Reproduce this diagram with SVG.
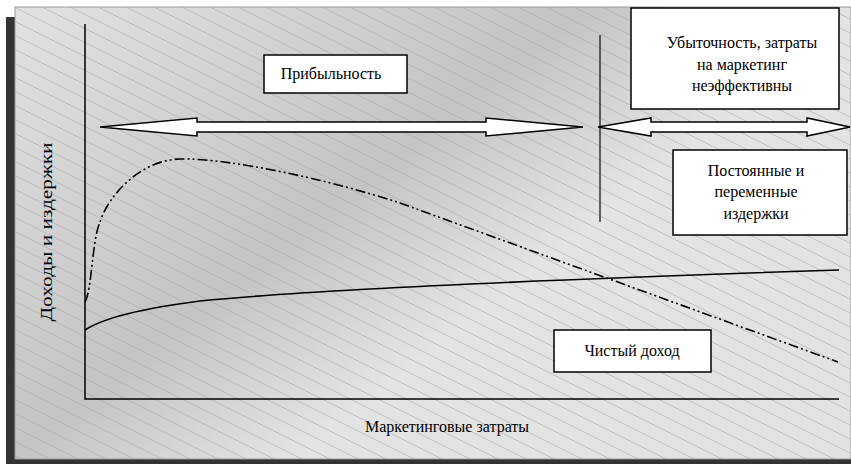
<svg xmlns="http://www.w3.org/2000/svg" width="851" height="464" viewBox="0 0 851 464">
<defs>
<linearGradient id="bg" gradientUnits="userSpaceOnUse" x1="15" y1="7" x2="557" y2="698">
<stop offset="0" stop-color="#e2e2e2"/>
<stop offset="0.4" stop-color="#c4c4c4"/>
<stop offset="0.6" stop-color="#e4e4e4"/>
<stop offset="1" stop-color="#e2e2e2"/>
</linearGradient>
<pattern id="hatch" patternUnits="userSpaceOnUse" width="28" height="14">
<path d="M-2,-1 L30,15 M-2,13 L2,15 M26,-1 L30,1" stroke="#a6a6a6" stroke-width="0.6" fill="none"/>
</pattern>
</defs>
<style>
.box{fill:#fff;stroke:#000;stroke-width:1.5}
.t{font-family:"Liberation Serif","Times New Roman",serif;font-size:16px;fill:#000}
.arrow{fill:#fff;stroke:#000;stroke-width:1.5;stroke-linejoin:miter}
.axis{stroke:#000;stroke-width:1.5;fill:none}
</style>
<g id="background">
<rect x="6" y="17" width="845" height="447" fill="#333"/>
<rect x="15" y="7" width="836" height="452" fill="url(#bg)" stroke="#999" stroke-width="1"/>
<rect x="15" y="7" width="836" height="452" fill="url(#hatch)"/>
</g>
<g id="connectors">
<path class="axis" d="M85,24 V399 H839"/>
<path d="M600,35 V222" stroke="#333" stroke-width="1.5"/>
<polygon class="arrow" points="100,127 197,118 197,122 486,122 486,118 583,127 486,136 486,132 197,132 197,136"/>
<polygon class="arrow" points="598,127 651,118 651,122 807,122 807,118 850,127 807,136 807,132 651,132 651,136"/>
<path d="M85,330 C100,320 130,310 200,301 C300,291 500,281 839,270" fill="none" stroke="#000" stroke-width="1.6"/>
<path d="M85,302 C92,290 92,240 100,222 C108,196 140,160 180,159 C230,158 330,180 400,203 L838,362" fill="none" stroke="#000" stroke-width="1.6" stroke-dasharray="10 3 2 3 2 3"/>
</g>
<g id="node-pribylnost">
<rect class="box" x="264" y="55" width="143" height="38"/>
<text class="t" x="331" y="79" text-anchor="middle" font-size="16.5">Прибыльность</text>
</g>
<g id="node-ubytochnost">
<rect class="box" x="631" y="8" width="208" height="101"/>
<text class="t" x="742" y="48" text-anchor="middle" font-size="17">Убыточность, затраты</text>
<text class="t" x="742" y="70" text-anchor="middle" font-size="17">на маркетинг</text>
<text class="t" x="742" y="91" text-anchor="middle" font-size="17">неэффективны</text>
</g>
<g id="node-izderzhki">
<rect class="box" x="673" y="150" width="174" height="85"/>
<text class="t" x="756" y="176" text-anchor="middle" font-size="17">Постоянные и</text>
<text class="t" x="756" y="197" text-anchor="middle" font-size="17">переменные</text>
<text class="t" x="756" y="219" text-anchor="middle" font-size="17">издержки</text>
</g>
<g id="node-chisty">
<rect class="box" x="554" y="330" width="157" height="42"/>
<text class="t" x="632" y="356" text-anchor="middle">Чистый доход</text>
</g>
<g id="labels">
<text class="t" x="447" y="432" text-anchor="middle">Маркетинговые затраты</text>
<text class="t" transform="translate(52,232) rotate(-90)" text-anchor="middle" font-size="17" textLength="179" lengthAdjust="spacingAndGlyphs">Доходы и издержки</text>
</g>
</svg>
